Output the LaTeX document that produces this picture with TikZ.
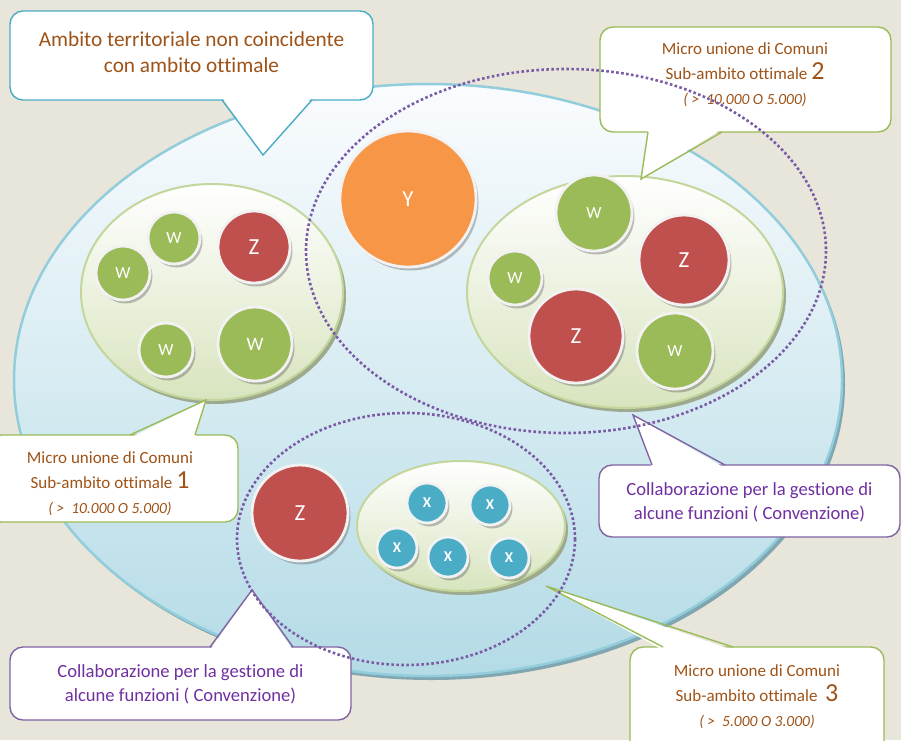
\documentclass[tikz,border=0pt]{standalone}
\usepackage{fontspec}
\setmainfont{Carlito}[Ligatures=NoCommon]
\usetikzlibrary{shadows}
\definecolor{bgc}{HTML}{E8E5DA}
\definecolor{bigborder}{HTML}{92CDDC}
\definecolor{bigshadow}{HTML}{7FA6B1}
\definecolor{bigtop}{HTML}{FAFCFE}
\definecolor{bigmid}{HTML}{D6ECF2}
\definecolor{bigbot}{HTML}{B4DBE6}
\definecolor{grnborder}{HTML}{C3D69B}
\definecolor{grnbot}{HTML}{D8E4BE}
\definecolor{grnshadow}{HTML}{9DAA8E}
\definecolor{wcol}{HTML}{9BBB59}
\definecolor{zcol}{HTML}{C0504D}
\definecolor{ycol}{HTML}{F79646}
\definecolor{xcol}{HTML}{4BACC6}
\definecolor{ringcol}{HTML}{F2F2F2}
\definecolor{dotcol}{HTML}{7A5CA6}
\definecolor{blueline}{HTML}{4BACC6}
\definecolor{greenline}{HTML}{9BBB59}
\definecolor{purpline}{HTML}{8064A2}
\definecolor{brn}{HTML}{9E5318}
\definecolor{purptext}{HTML}{7030A0}
\begin{document}
\begin{tikzpicture}[x=1pt,y=-1pt,
  greenell/.style={draw=grnborder, line width=2, top color=white, bottom color=grnbot},
  dotell/.style={draw=dotcol, line width=2.6, line cap=butt, dash pattern=on 2.6pt off 2.4pt},
  ball/.style={circle, draw=ringcol, line width=2.8, inner sep=0pt, text=white,
    drop shadow={shadow xshift=2.5pt, shadow yshift=-3.5pt, fill=black!70, opacity=0.35}},
  wball/.style={ball, fill=wcol, font=\fontsize{17}{17}\selectfont},
  zball/.style={ball, fill=zcol, font=\fontsize{23}{23}\selectfont},
  yball/.style={ball, fill=ycol, font=\fontsize{23}{23}\selectfont},
  xball/.style={ball, fill=xcol, font=\bfseries\fontsize{15}{15}\selectfont},
  callbox/.style={rectangle, rounded corners=13pt, fill=white, line width=1.4, inner sep=0pt},
  calltext/.style={align=center}
]
\useasboundingbox (0,0) rectangle (901,740);
\clip (0,0) rectangle (901,740);
\fill[bgc] (0,0) rectangle (901,740);

% big territorial ellipse
\fill[bigshadow] (431,384) ellipse [x radius=414, y radius=296];
\draw[bigborder, line width=2.5, top color=bigtop, middle color=bigmid, bottom color=bigbot] (428,380) ellipse [x radius=414, y radius=296];

% green sub-ambito ellipses
\fill[grnshadow] (215,296) ellipse [x radius=131, y radius=108];
\fill[grnshadow] (628,296) ellipse [x radius=158, y radius=116];
\fill[grnshadow] (464,530) ellipse [x radius=104, y radius=65];
\draw[greenell] (212,292) ellipse [x radius=131, y radius=108];
\draw[greenell] (625,292) ellipse [x radius=158, y radius=116];
\draw[greenell] (461,526) ellipse [x radius=104, y radius=65];

% left group
\node[wball, minimum size=54] (wl1) at (123,273) {W};
\node[wball, minimum size=52] (wl2) at (174,238) {W};
\node[zball, minimum size=72] (zl1) at (254,247) {Z};
\node[wball, minimum size=54] (wl3) at (166,350) {W};
\node[wball, minimum size=74, font=\fontsize{19}{19}\selectfont] (wl4) at (255,344) {W};

% Y
\node[yball, minimum size=136] (y1) at (408,199) {Y};

% right group
\node[wball, minimum size=76] (wr1) at (594,213) {W};
\node[zball, minimum size=90] (zr1) at (684,260) {Z};
\node[wball, minimum size=54] (wr2) at (515,278) {W};
\node[zball, minimum size=94] (zr2) at (576,336) {Z};
\node[wball, minimum size=76] (wr3) at (675,351) {W};

% bottom group
\node[zball, minimum size=96] (zb1) at (300,513) {Z};
\node[xball, minimum size=40] (x1) at (427,503) {X};
\node[xball, minimum size=40] (x2) at (490,505) {X};
\node[xball, minimum size=40] (x3) at (397,548) {X};
\node[xball, minimum size=40] (x4) at (448,557) {X};
\node[xball, minimum size=40] (x5) at (509,558) {X};

% callout 1 (top-left)
\node[callbox, draw=blueline, minimum width=363, minimum height=89] (c1) at (191.5,55.5) {};
\coordinate (t1) at (263,155);
\fill[white] (222,97) -- (t1) -- (312,97) -- cycle;
\draw[blueline, line width=1.4, line join=miter] (222,100) -- (t1) -- (312,100);
\node[calltext, text=brn, font=\fontsize{21.3}{26}\selectfont] at (c1.center) [yshift=3pt] {Ambito territoriale non coincidente\\con ambito ottimale};

% callout 2 (top-right)
\node[callbox, draw=greenline, minimum width=291, minimum height=105] (c2) at (745.5,79.5) {};
\coordinate (t2) at (641,179);
\fill[white] (648,129) -- (t2) -- (722,129) -- cycle;
\draw[greenline, line width=1.4] (648,132) -- (t2) -- (722,132);
\node[calltext, text=brn, font=\fontsize{17}{25}\selectfont] at (745,75) {Micro unione di Comuni\\Sub-ambito ottimale {\fontsize{26}{25}\selectfont 2}\\{\itshape\fontsize{15.5}{25}\selectfont ( >\ \ 10.000 O 5.000)}};

% callout 3 (left)
\node[callbox, draw=greenline, minimum width=250, minimum height=87] (c3) at (113,478.5) {};
\coordinate (t3) at (206,400);
\fill[white] (130,438) -- (t3) -- (195,438) -- cycle;
\draw[greenline, line width=1.4] (130,435) -- (t3) -- (195,435);
\node[calltext, text=brn, font=\fontsize{17}{25}\selectfont] at (110,484) {Micro unione di Comuni\\Sub-ambito ottimale {\fontsize{26}{25}\selectfont 1}\\{\itshape\fontsize{15.5}{25}\selectfont ( >\ \ 10.000 O 5.000)}};

% callout 4 (right, convenzione)
\node[callbox, draw=purpline, minimum width=301, minimum height=72] (c4) at (749.5,501) {};
\coordinate (t4) at (633,415);
\fill[white] (652,468) -- (t4) -- (725,468) -- cycle;
\draw[purpline, line width=1.4] (652,465) -- (t4) -- (725,465);
\node[calltext, text=purptext, font=\fontsize{18.6}{24}\selectfont] at (c4.center) [yshift=-1pt] {Collaborazione per la gestione di\\alcune funzioni ( Convenzione)};

% callout 5 (bottom-left, convenzione)
\node[callbox, draw=purpline, minimum width=341, minimum height=73] (c5) at (180.5,683.5) {};
\coordinate (t5) at (252,590);
\fill[white] (210,650) -- (t5) -- (293,650) -- cycle;
\draw[purpline, line width=1.4] (210,647) -- (t5) -- (293,647);
\node[calltext, text=purptext, font=\fontsize{18.6}{24}\selectfont] at (c5.center) [yshift=-1pt] {Collaborazione per la gestione di\\alcune funzioni ( Convenzione)};

% callout 6 (bottom-right)
\node[callbox, draw=greenline, minimum width=254, minimum height=113] (c6) at (757,703.5) {};
\coordinate (t6) at (546,586);
\fill[white] (663,650) -- (t6) -- (733,650) -- cycle;
\draw[greenline, line width=1.4] (663,647) -- (t6) -- (733,647);
\node[calltext, text=brn, font=\fontsize{17}{25}\selectfont] at (757,697) {Micro unione di Comuni\\Sub-ambito ottimale\ \ {\fontsize{26}{25}\selectfont 3}\\{\itshape\fontsize{15.5}{25}\selectfont ( >\ \ 5.000 O 3.000)}};

% dotted collaboration ellipses
\draw[dotell] (566,251) ellipse [x radius=260, y radius=182];
\draw[dotell] (406,539) ellipse [x radius=169, y radius=126];
\end{tikzpicture}
\end{document}
